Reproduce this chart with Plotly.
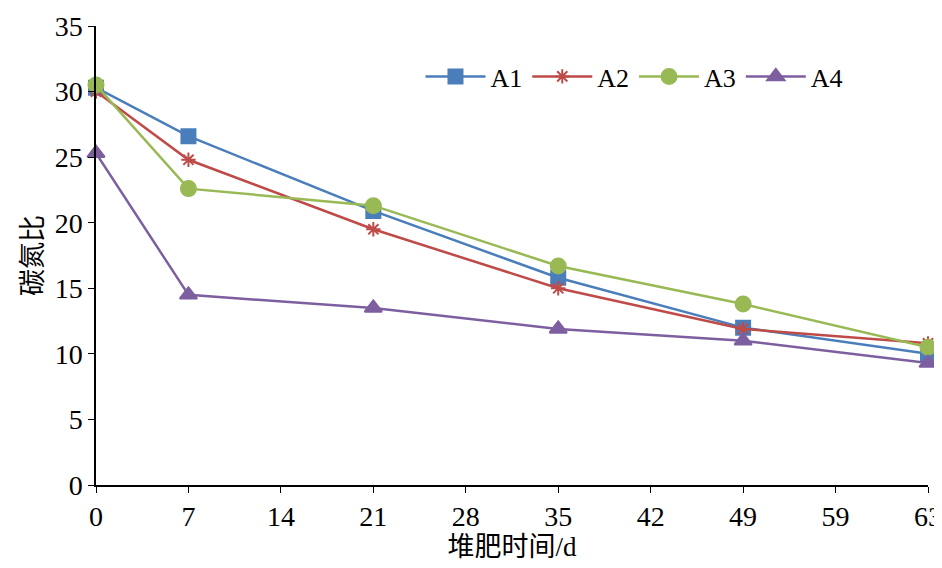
import plotly.graph_objects as go

tick_days = [0, 7, 14, 21, 28, 35, 42, 49, 59, 63]
days = [0, 7, 21, 35, 49, 63]
a1 = [30.3, 26.6, 20.9, 15.8, 12.0, 10.0]
a2 = [30.0, 24.8, 19.5, 15.0, 11.9, 10.8]
a3 = [30.5, 22.6, 21.3, 16.7, 13.8, 10.5]
a4 = [25.3, 14.5, 13.5, 11.9, 11.0, 9.3]

# x axis is evenly spaced by tick label, not by value
xpos = [tick_days.index(d) for d in days]

series = [
    ("A1", a1, "#4a7ebb", "square", 14),
    ("A2", a2, "#be4b48", "asterisk-open", 12),
    ("A3", a3, "#98b954", "circle", 15),
    ("A4", a4, "#7d5fa0", "triangle-up", 15),
]

fig = go.Figure()
for name, vals, col, sym, sz in series:
    fig.add_trace(go.Scatter(
        x=xpos, y=vals, name=name, mode="lines+markers", cliponaxis=False,
        line=dict(color=col, width=2.5),
        marker=dict(symbol=sym, size=sz, color=col, line=dict(color=col, width=2)),
    ))

font = "Liberation Serif, Noto Sans CJK SC, serif"
fig.update_layout(
    width=942, height=568,
    margin=dict(l=88, r=22, t=18, b=91),
    plot_bgcolor="white", paper_bgcolor="white",
    font=dict(family=font, size=28, color="black"),
    legend=dict(orientation="h", x=0.39, y=0.89, xanchor="left", yanchor="middle",
                font=dict(size=26), bgcolor="rgba(0,0,0,0)", itemwidth=60),
    xaxis=dict(range=[0, 9], tickvals=list(range(len(tick_days))),
               ticktext=[str(d) for d in tick_days], showgrid=False, zeroline=False,
               showline=True, linecolor="black", linewidth=1.5,
               ticks="outside", ticklen=6, tickcolor="black", automargin=False,
               title=dict(text="堆肥时间/d", standoff=6, font=dict(size=27))),
    yaxis=dict(range=[0, 35], dtick=5, showgrid=False, zeroline=False,
               showline=True, linecolor="black", linewidth=1.5,
               ticks="outside", ticklen=6, tickcolor="black", automargin=False,
               title=dict(text="碳氮比", standoff=4, font=dict(size=27))),
)
fig.write_html("out.html")
